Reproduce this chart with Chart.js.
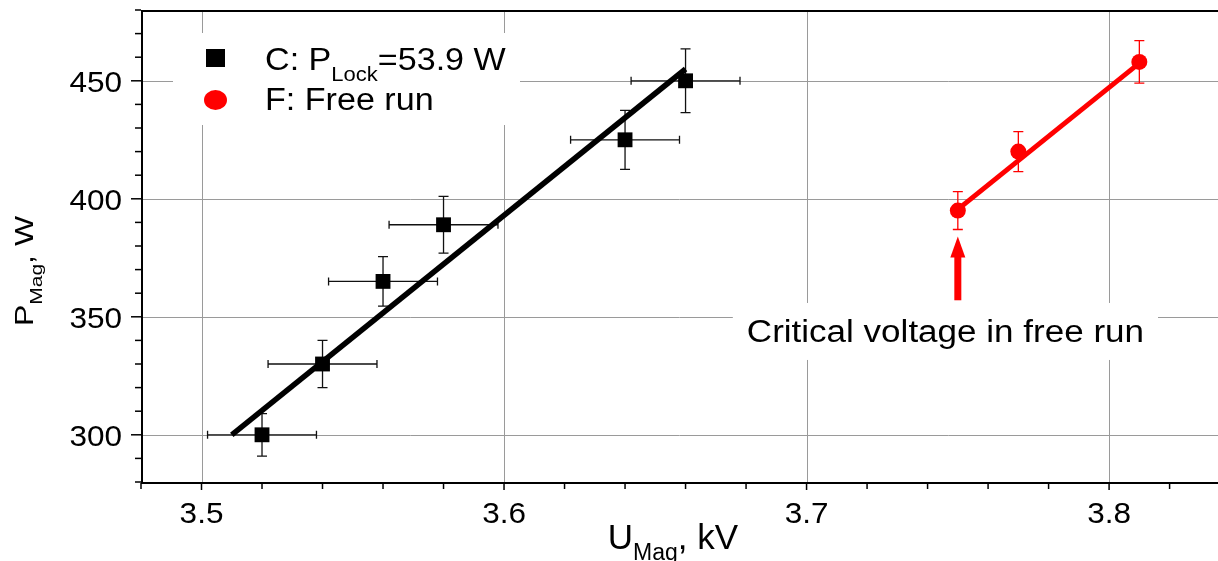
<!DOCTYPE html>
<html>
<head>
<meta charset="utf-8">
<script src="https://cdn.jsdelivr.net/npm/chart.js@4.4.0/dist/chart.umd.min.js"></script>
<style>
html,body{margin:0;padding:0;background:#fff;}
#wrap{width:1218px;height:561px;position:relative;}
</style>
</head>
<body>
<div id="wrap"><canvas id="c" width="1218" height="561"></canvas></div>
<script>
// ---- data ----
const lockU    = [3.52, 3.54, 3.56, 3.58, 3.64, 3.66];
const lockP    = [300, 330, 365, 389, 425, 450];
const lockPErr = [9, 10, 10.5, 12, 12.5, 13.5];
const lockUErr = [0.018, 0.018, 0.018, 0.018, 0.018, 0.018];
const freeU    = [3.75, 3.77, 3.81];
const freeP    = [395, 420, 458];
const freePErr = [8, 8.5, 9];
const fitLockU = [3.51, 3.66];
const fitLockP = [300, 455];
const fitFreeU = [3.75, 3.81];
const fitFreeP = [395.5, 457.5];
const xTicks = [3.5, 3.6, 3.7, 3.8];
const xTickLabels = ['3.5', '3.6', '3.7', '3.8'];
const yTicks = [300, 350, 400, 450];
const yTickLabels = ['300', '350', '400', '450'];
const arrowU = 3.75, arrowFromP = 357, arrowToP = 384;
const annoText = 'Critical voltage in free run';
const annoU = 3.7459, annoP = 344;

const FONT = '"Liberation Sans", Arial, sans-serif';
const toXY = (us, ps) => us.map((u, i) => ({x: u, y: ps[i]}));

function txt(ctx, s, x, y, size, align, sx, sy) {
  ctx.save();
  ctx.font = size + 'px ' + FONT;
  ctx.fillStyle = '#000';
  ctx.textAlign = align || 'left';
  ctx.textBaseline = 'alphabetic';
  ctx.translate(x, y);
  ctx.scale(sx || 1, sy || 1);
  ctx.fillText(s, 0, 0);
  ctx.restore();
}
function tw(ctx, s, size, sx) {
  ctx.save(); ctx.font = size + 'px ' + FONT;
  const w = ctx.measureText(s).width * (sx || 1);
  ctx.restore(); return w;
}

const deco = {
  id: 'deco',
  beforeDatasetsDraw(chart) {
    const ctx = chart.ctx, xs = chart.scales.x, ys = chart.scales.y, a = chart.chartArea;
    ctx.save();
    // grid
    ctx.strokeStyle = '#9a9a9a'; ctx.lineWidth = 1;
    xTicks.forEach(v => { const px = Math.round(xs.getPixelForValue(v)) + 0.5;
      ctx.beginPath(); ctx.moveTo(px, a.top); ctx.lineTo(px, a.bottom); ctx.stroke(); });
    yTicks.forEach(v => { const py = Math.round(ys.getPixelForValue(v)) + 0.5;
      ctx.beginPath(); ctx.moveTo(a.left, py); ctx.lineTo(a.right, py); ctx.stroke(); });
    // legend box (white, hides grid)
    ctx.fillStyle = '#fff';
    ctx.fillRect(a.left + 32, a.top + 23, 347, 92);
    // annotation box
    const tsz = 31, tsx = 1.13;
    const w = tw(ctx, annoText, tsz, tsx);
    const cx = xs.getPixelForValue(annoU), cy = ys.getPixelForValue(annoP);
    ctx.fillRect(cx - w / 2 - 14, cy - 28, w + 28, 57);
    // error bars
    ctx.lineWidth = 1.3;
    ctx.strokeStyle = '#111';
    lockU.forEach((u, i) => {
      const px = xs.getPixelForValue(u), py = ys.getPixelForValue(lockP[i]);
      const y1 = ys.getPixelForValue(lockP[i] + lockPErr[i]), y2 = ys.getPixelForValue(lockP[i] - lockPErr[i]);
      const x1 = xs.getPixelForValue(u - lockUErr[i]), x2 = xs.getPixelForValue(u + lockUErr[i]);
      ctx.beginPath();
      ctx.moveTo(px, y1); ctx.lineTo(px, y2);
      ctx.moveTo(px - 5, y1); ctx.lineTo(px + 5, y1);
      ctx.moveTo(px - 5, y2); ctx.lineTo(px + 5, y2);
      ctx.moveTo(x1, py); ctx.lineTo(x2, py);
      ctx.moveTo(x1, py - 4); ctx.lineTo(x1, py + 4);
      ctx.moveTo(x2, py - 4); ctx.lineTo(x2, py + 4);
      ctx.stroke();
    });
    ctx.strokeStyle = '#ff0000';
    freeU.forEach((u, i) => {
      const px = xs.getPixelForValue(u);
      const y1 = ys.getPixelForValue(freeP[i] + freePErr[i]), y2 = ys.getPixelForValue(freeP[i] - freePErr[i]);
      ctx.beginPath();
      ctx.moveTo(px, y1); ctx.lineTo(px, y2);
      ctx.moveTo(px - 5, y1); ctx.lineTo(px + 5, y1);
      ctx.moveTo(px - 5, y2); ctx.lineTo(px + 5, y2);
      ctx.stroke();
    });
    ctx.restore();
  },
  afterDraw(chart) {
    const ctx = chart.ctx, xs = chart.scales.x, ys = chart.scales.y, a = chart.chartArea;
    ctx.save();
    // frame
    ctx.strokeStyle = '#000'; ctx.lineWidth = 2;
    ctx.beginPath();
    ctx.moveTo(a.right, a.top + 1); ctx.lineTo(a.left + 1, a.top + 1);
    ctx.lineTo(a.left + 1, a.bottom + 1); ctx.lineTo(a.right, a.bottom + 1);
    ctx.stroke();
    // y ticks
    ctx.lineWidth = 1.5;
    for (let v = ys.min; v <= ys.max + 1e-6; v += 10) {
      const py = ys.getPixelForValue(v);
      const major = yTicks.includes(Math.round(v));
      ctx.beginPath(); ctx.moveTo(a.left, py); ctx.lineTo(a.left - (major ? 10 : 6), py); ctx.stroke();
    }
    // x ticks
    for (let k = 0; ; k++) {
      const v = 3.48 + k * 0.02; if (v > xs.max + 1e-9) break;
      const px = xs.getPixelForValue(v);
      const major = xTicks.some(t => Math.abs(t - v) < 1e-6);
      ctx.beginPath(); ctx.moveTo(px, a.bottom + 1); ctx.lineTo(px, a.bottom + (major ? 8 : 7)); ctx.stroke();
    }
    // tick labels
    yTicks.forEach((v, i) => txt(ctx, yTickLabels[i], a.left - 19, ys.getPixelForValue(v) + 11, 30, 'right', 1.05));
    xTicks.forEach((v, i) => txt(ctx, xTickLabels[i], xs.getPixelForValue(v), a.bottom + 41, 30, 'center', 1.05));
    // x title
    {
      const s1 = 'U', s2 = 'Mag', s3 = ', kV', m = 35, s = 23;
      const w = tw(ctx, s1, m) + tw(ctx, s2, s) + tw(ctx, s3, m);
      let x = 673 - w / 2; const y = 549;
      txt(ctx, s1, x, y, m, 'left'); x += tw(ctx, s1, m);
      txt(ctx, s2, x, y + 11, s, 'left'); x += tw(ctx, s2, s);
      txt(ctx, s3, x, y, m, 'left');
    }
    // y title (rotated)
    {
      ctx.save();
      ctx.translate(33, 271); ctx.rotate(-Math.PI / 2);
      const s1 = 'P', s2 = 'Mag', s3 = ', W', m = 32, s = 21, sy = 0.8;
      const w = tw(ctx, s1, m) + tw(ctx, s2, s) + tw(ctx, s3, m);
      let x = -w / 2;
      txt(ctx, s1, x, 0, m, 'left', 1, sy); x += tw(ctx, s1, m);
      txt(ctx, s2, x, 9, s, 'left', 1, sy); x += tw(ctx, s2, s);
      txt(ctx, s3, x, 0, m, 'left', 1, sy);
      ctx.restore();
    }
    // legend
    {
      const sx = 1.1, m = 31, s = 20;
      ctx.fillStyle = '#000';
      ctx.fillRect(206, 49, 19, 18);
      ctx.fillStyle = '#ff0000';
      ctx.beginPath(); ctx.ellipse(215.5, 100, 11.5, 10, 0, 0, Math.PI * 2); ctx.fill();
      let x = 265;
      txt(ctx, 'C: P', x, 70, m, 'left', sx); x += tw(ctx, 'C: P', m, sx);
      txt(ctx, 'Lock', x, 81, s, 'left', sx); x += tw(ctx, 'Lock', s, sx);
      txt(ctx, '=53.9 W', x, 70, m, 'left', sx);
      txt(ctx, 'F: Free run', 265, 110, m, 'left', sx);
    }
    // arrow
    {
      const px = xs.getPixelForValue(arrowU);
      const yb = ys.getPixelForValue(arrowFromP), yt = ys.getPixelForValue(arrowToP);
      ctx.fillStyle = '#ff0000';
      ctx.fillRect(px - 3.5, yt + 18, 7, yb - yt - 18);
      ctx.beginPath(); ctx.moveTo(px, yt); ctx.lineTo(px - 7.5, yt + 21); ctx.lineTo(px + 7.5, yt + 21); ctx.closePath(); ctx.fill();
    }
    // annotation text
    txt(ctx, annoText, xs.getPixelForValue(annoU), ys.getPixelForValue(annoP) + 11, 31, 'center', 1.13);
    ctx.restore();
  }
};

new Chart(document.getElementById('c'), {
  type: 'scatter',
  data: {
    datasets: [
      { label: 'C', data: toXY(lockU, lockP), pointStyle: 'rect', pointRadius: 10.5, pointHoverRadius: 10.5,
        backgroundColor: '#000', borderColor: '#000', borderWidth: 0 },
      { label: 'F', data: toXY(freeU, freeP), pointStyle: 'circle', pointRadius: 8, pointHoverRadius: 8,
        backgroundColor: '#ff0000', borderColor: '#ff0000', borderWidth: 0 },
      { label: 'fitC', data: toXY(fitLockU, fitLockP), showLine: true, pointRadius: 0, borderColor: '#000', borderWidth: 5.5 },
      { label: 'fitF', data: toXY(fitFreeU, fitFreeP), showLine: true, pointRadius: 0, borderColor: '#ff0000', borderWidth: 5 }
    ]
  },
  options: {
    responsive: false, animation: false, devicePixelRatio: 1,
    layout: { autoPadding: false, padding: { left: 141, top: 10, right: 0, bottom: 79 } },
    plugins: { legend: { display: false }, tooltip: { enabled: false } },
    scales: {
      x: { type: 'linear', min: 3.48, max: 3.836, display: false },
      y: { type: 'linear', min: 280, max: 480, display: false }
    }
  },
  plugins: [deco]
});
</script>
</body>
</html>
